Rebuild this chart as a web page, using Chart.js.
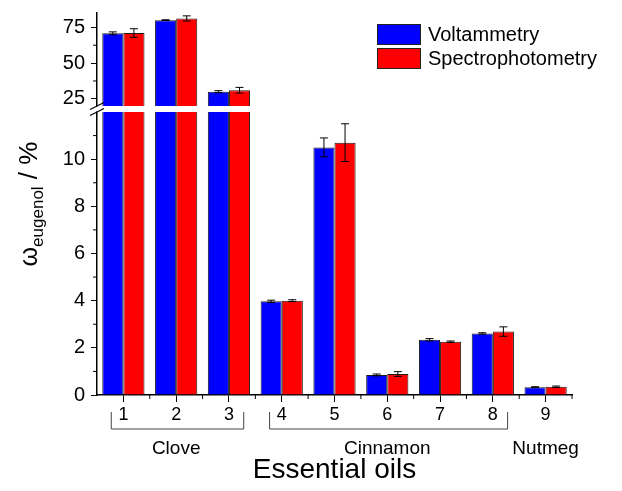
<!DOCTYPE html>
<html>
<head>
<meta charset="utf-8">
<script src="https://cdn.jsdelivr.net/npm/chart.js@4.4.1/dist/chart.umd.min.js"></script>
<style>
  html, body { margin: 0; padding: 0; background: #fff; }
  #wrap { position: relative; width: 622px; height: 491px; }
  #legend { position: absolute; left: 377px; top: 22px; font: 20px "Liberation Sans", Arial, sans-serif; color: #000; }
  .item { display: flex; align-items: center; height: 24.5px; }
  .swatch { width: 42px; height: 19px; border: 1px solid #222; margin-right: 7px; }
</style>
</head>
<body>
<div id="wrap">
  <canvas id="oils" width="622" height="491"></canvas>
  <div id="legend"></div>
</div>
<script>
// categories and groups
const categories = ['1', '2', '3', '4', '5', '6', '7', '8', '9'];
const groupNames = ['Clove', 'Cinnamon', 'Nutmeg'];
const groupFirst = [0, 3, 8];
const groupLast = [2, 7, 8];

// omega eugenol in %, with error bars
const voltValues = [70.8, 80.0, 30.0, 3.97, 10.5, 0.85, 2.34, 2.61, 0.33];
const voltErrors = [1.0, 0.3, 0.7, 0.05, 0.4, 0.04, 0.05, 0.03, 0.02];
const spectValues = [71.0, 81.2, 31.0, 4.0, 10.7, 0.89, 2.26, 2.69, 0.35];
const spectErrors = [3.0, 1.8, 2.0, 0.04, 0.8, 0.1, 0.03, 0.2, 0.03];

// broken y axis
const upperTicks = [25, 50, 75];
const upperMinor = [37.5, 62.5];
const lowerTicks = [0, 2, 4, 6, 8, 10];
const lowerMinor = [1, 3, 5, 7, 9, 11];
const upperRange = [20, 85];
const lowerRange = [0, 12];

const FONT = '"Liberation Sans", Arial, sans-serif';
const upperBoxPx = 99, lowerBoxPx = 283, breakGap = 6;
// upper scale min so that 20 sits breakGap px above the lower part
const upperMin = upperRange[0] - breakGap * (upperRange[1] - upperRange[0]) / (upperBoxPx - breakGap);

Chart.defaults.font.family = FONT;
Chart.defaults.color = '#000';

// fixed width for the y axes, no extra label padding above/below
function fitY(scale) {
    scale.width = 97;
    scale.paddingTop = 0;
    scale.paddingBottom = 0;
}

const breakPlugin = {
    id: 'breakAxis',
    beforeDatasetDraw(chart, args) {
        const meta = args.meta;
        const ys = chart.scales[meta.yAxisID];
        const area = chart.chartArea;
        const top = ys.top;
        const bottom = meta.yAxisID === 'yHigh' ? ys.getPixelForValue(upperRange[0]) : area.bottom + 1;
        const ctx = chart.ctx;
        ctx.save();
        ctx.beginPath();
        ctx.rect(area.left, top, area.right - area.left, bottom - top);
        ctx.clip();
    },
    afterDatasetDraw(chart, args) {
        const meta = args.meta;
        const ds = chart.data.datasets[args.index];
        const ys = chart.scales[meta.yAxisID];
        const ctx = chart.ctx;
        ctx.strokeStyle = '#000';
        ctx.lineWidth = 1;
        meta.data.forEach((bar, i) => {
            const v = ds.data[i], e = ds.errors[i];
            const y1 = ys.getPixelForValue(v - e), y2 = ys.getPixelForValue(v + e);
            ctx.beginPath();
            ctx.moveTo(bar.x, y1); ctx.lineTo(bar.x, y2);
            ctx.moveTo(bar.x - 4, y1); ctx.lineTo(bar.x + 4, y1);
            ctx.moveTo(bar.x - 4, y2); ctx.lineTo(bar.x + 4, y2);
            ctx.stroke();
        });
        ctx.restore();
    },
    afterDraw(chart) {
        const ctx = chart.ctx;
        const area = chart.chartArea;
        const xs = chart.scales.x, hi = chart.scales.yHigh, lo = chart.scales.yLow;
        const yBreakTop = hi.getPixelForValue(upperRange[0]);
        const yBreakBot = lo.top;

        // white band of the break
        ctx.save();
        ctx.fillStyle = '#fff';
        ctx.fillRect(area.left - 3, yBreakTop + 0.5, area.right - area.left + 3, yBreakBot - yBreakTop - 1);

        // break marks
        ctx.strokeStyle = '#000';
        ctx.lineWidth = 1.2;
        [yBreakTop, yBreakBot].forEach(y => {
            ctx.beginPath();
            ctx.moveTo(area.left - 7, y + 3.5);
            ctx.lineTo(area.left + 7, y - 3.5);
            ctx.stroke();
        });

        // minor ticks
        ctx.lineWidth = 1;
        ctx.beginPath();
        upperMinor.forEach(v => {
            const y = hi.getPixelForValue(v);
            ctx.moveTo(area.left - 4, y); ctx.lineTo(area.left, y);
        });
        lowerMinor.forEach(v => {
            const y = lo.getPixelForValue(v);
            ctx.moveTo(area.left - 4, y); ctx.lineTo(area.left, y);
        });
        for (let i = 0; i < categories.length; i++) {
            const x = (xs.getPixelForValue(i) + xs.getPixelForValue(i + 1)) / 2;
            ctx.moveTo(x, area.bottom); ctx.lineTo(x, area.bottom + 4);
        }
        ctx.stroke();

        // group brackets and names
        const step = xs.getPixelForValue(1) - xs.getPixelForValue(0);
        ctx.strokeStyle = '#444';
        ctx.fillStyle = '#000';
        ctx.font = '19px ' + FONT;
        ctx.textAlign = 'center';
        ctx.textBaseline = 'middle';
        groupNames.forEach((name, g) => {
            const x0 = xs.getPixelForValue(groupFirst[g]);
            const x1 = xs.getPixelForValue(groupLast[g]);
            if (groupLast[g] > groupFirst[g]) {
                const xl = x0 - 0.23 * step, xr = x1 + 0.28 * step;
                ctx.beginPath();
                ctx.moveTo(xl, area.bottom + 17);
                ctx.lineTo(xl, area.bottom + 34);
                ctx.lineTo(xr, area.bottom + 34);
                ctx.lineTo(xr, area.bottom + 17);
                ctx.stroke();
            }
            ctx.fillText(name, (x0 + x1) / 2, area.bottom + 54);
        });

        // y title with subscript
        const parts = [['\u03c9', '25px ', 0], ['eugenol', '17px ', 6], [' / %', '26px ', 0]];
        let total = 0;
        parts.forEach(p => { ctx.font = p[1] + FONT; total += ctx.measureText(p[0]).width; });
        ctx.translate(37, (area.top + area.bottom) / 2);
        ctx.rotate(-Math.PI / 2);
        ctx.textAlign = 'left';
        ctx.textBaseline = 'alphabetic';
        let cx = -total / 2;
        parts.forEach(p => {
            ctx.font = p[1] + FONT;
            ctx.fillText(p[0], cx, p[2]);
            cx += ctx.measureText(p[0]).width;
        });
        ctx.restore();
    }
};

const barStyle = { borderColor: '#1a1a1a', borderWidth: 1 };

const chart = new Chart(document.getElementById('oils'), {
    type: 'bar',
    data: {
        labels: categories,
        datasets: [
            { label: 'Voltammetry', data: voltValues, errors: voltErrors, yAxisID: 'yLow', stack: 'volt', backgroundColor: '#0000ff', ...barStyle },
            { label: 'Spectrophotometry', data: spectValues, errors: spectErrors, yAxisID: 'yLow', stack: 'spect', backgroundColor: '#ff0000', ...barStyle },
            { label: 'Voltammetry', data: voltValues, errors: voltErrors, yAxisID: 'yHigh', stack: 'volt', backgroundColor: '#0000ff', ...barStyle },
            { label: 'Spectrophotometry', data: spectValues, errors: spectErrors, yAxisID: 'yHigh', stack: 'spect', backgroundColor: '#ff0000', ...barStyle }
        ]
    },
    options: {
        responsive: false,
        animation: false,
        layout: { padding: { top: 13, right: 50, left: 0, bottom: 0 } },
        datasets: { bar: { categoryPercentage: 0.8, barPercentage: 1.0 } },
        plugins: { legend: { display: false }, tooltip: { enabled: false } },
        scales: {
            x: {
                afterFit: scale => { scale.height = 96; },
                grid: { offset: false, drawOnChartArea: false, tickLength: 7, color: '#000' },
                border: { color: '#000', width: 1.5 },
                ticks: { font: { size: 18 }, padding: 2, color: '#000' },
                title: { display: true, text: 'Essential oils', font: { size: 28 }, padding: { top: 0, bottom: 4 }, color: '#000' }
            },
            yLow: {
                position: 'left',
                stack: 'omega',
                stackWeight: lowerBoxPx,
                stacked: false,
                min: lowerRange[0],
                max: lowerRange[1],
                afterBuildTicks: scale => { scale.ticks = lowerTicks.map(v => ({ value: v })); },
                afterFit: fitY,
                grid: { drawOnChartArea: false, tickLength: 6, color: '#000' },
                border: { color: '#000', width: 1.5 },
                ticks: { font: { size: 20 }, padding: 6, color: '#000' }
            },
            yHigh: {
                position: 'left',
                stack: 'omega',
                stackWeight: upperBoxPx,
                stacked: false,
                min: upperMin,
                max: upperRange[1],
                afterBuildTicks: scale => { scale.ticks = upperTicks.map(v => ({ value: v })); },
                afterFit: fitY,
                grid: { drawOnChartArea: false, tickLength: 6, color: '#000' },
                border: { color: '#000', width: 1.5 },
                ticks: { font: { size: 20 }, padding: 6, color: '#000' }
            }
        }
    },
    plugins: [breakPlugin]
});

// legend inside the plot, from the first two datasets
const legend = document.getElementById('legend');
chart.data.datasets.slice(0, 2).forEach(ds => {
    const item = document.createElement('div');
    item.className = 'item';
    const sw = document.createElement('span');
    sw.className = 'swatch';
    sw.style.background = ds.backgroundColor;
    const txt = document.createElement('span');
    txt.textContent = ds.label;
    item.appendChild(sw);
    item.appendChild(txt);
    legend.appendChild(item);
});
</script>
</body>
</html>
